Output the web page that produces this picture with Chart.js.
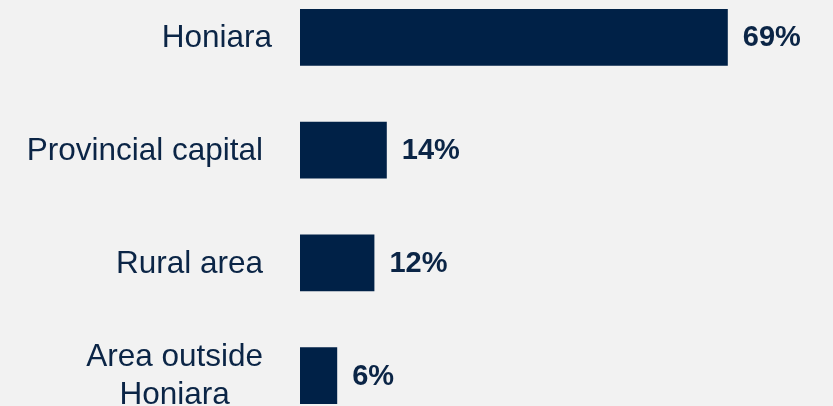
<!DOCTYPE html>
<html>
<head>
<meta charset="utf-8">
<script src="https://cdn.jsdelivr.net/npm/chart.js@4"></script>
<style>
  html, body { margin: 0; padding: 0; background: #f2f2f2; overflow: hidden; width: 833px; height: 406px; }
  #wrap { position: absolute; left: 0; top: -19px; width: 833px; height: 451px; }
</style>
</head>
<body>
<div id="wrap"><canvas id="barChart"></canvas></div>
<script>
// chart data
const categories = ['Honiara', 'Provincial capital', 'Rural area', ['Area outside', 'Honiara']];
const shares = [69, 14, 12, 6];

const navy = '#002147';
const textColor = '#0b2546';

// category names and value labels drawn next to the bars
const labelPlugin = {
    id: 'barLabels',
    afterDraw(chart) {
        const c = chart.ctx;
        const yScale = chart.scales.y;
        const area = chart.chartArea;
        c.save();
        c.fillStyle = textColor;
        c.textBaseline = 'middle';

        // category labels, block right aligned, lines centered
        c.font = '31.5px "Liberation Sans", Arial, sans-serif';
        const lineH = 38;
        categories.forEach((cat, i) => {
            const lines = Array.isArray(cat) ? cat : [cat];
            const blockW = Math.max(...lines.map(l => c.measureText(l).width));
            // the top label sits a little closer to its bar in the original
            const gap = i === 0 ? 28 : 37;
            const cx = area.left - gap - blockW / 2;
            const yc = yScale.getPixelForValue(i);
            c.textAlign = 'center';
            lines.forEach((l, k) => {
                c.fillText(l, cx, yc + (k - (lines.length - 1) / 2) * lineH + 1);
            });
        });

        // value labels
        c.font = 'bold 29px "Liberation Sans", Arial, sans-serif';
        c.textAlign = 'left';
        const meta = chart.getDatasetMeta(0);
        meta.data.forEach((bar, i) => {
            c.fillText(shares[i] + '%', bar.x + 15, bar.y + 1);
        });
        c.restore();
    }
};

new Chart(document.getElementById('barChart'), {
    type: 'bar',
    data: {
        labels: categories,
        datasets: [{
            data: shares,
            backgroundColor: navy,
            borderWidth: 0,
            categoryPercentage: 1,
            barPercentage: 0.505
        }]
    },
    options: {
        indexAxis: 'y',
        responsive: true,
        maintainAspectRatio: false,
        animation: false,
        layout: { padding: { left: 300, right: 37, top: 0, bottom: 0 } },
        plugins: {
            legend: { display: false },
            tooltip: { enabled: false }
        },
        scales: {
            x: {
                min: 0,
                max: 80,
                display: false
            },
            y: {
                display: false
            }
        }
    },
    plugins: [labelPlugin]
});
</script>
</body>
</html>
